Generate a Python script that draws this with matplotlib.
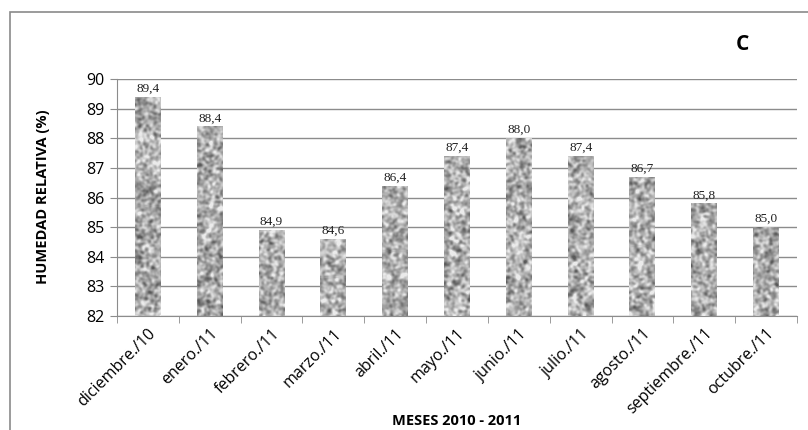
import numpy as np
import matplotlib
matplotlib.use("Agg")
import matplotlib.pyplot as plt
from matplotlib.patches import Rectangle

meses = ["diciembre./10", "enero./11", "febrero./11", "marzo./11", "abril./11",
         "mayo./11", "junio./11", "julio./11", "agosto./11", "septiembre./11",
         "octubre./11"]
humedad = [89.4, 88.4, 84.9, 84.6, 86.4, 87.4, 88.0, 87.4, 86.7, 85.8, 85.0]
yticks = [82, 83, 84, 85, 86, 87, 88, 89, 90]


def blur(a, sigma):
    r = int(3 * sigma)
    t = np.arange(-r, r + 1)
    k = np.exp(-t ** 2 / (2 * sigma ** 2))
    k /= k.sum()
    a = np.apply_along_axis(lambda v: np.convolve(v, k, mode="same"), 1, a)
    a = np.apply_along_axis(lambda v: np.convolve(v, k, mode="same"), 0, a)
    return a


def granite(h, w):
    # only a fill texture for the bars (granite-like Excel pattern)
    rng = np.random.default_rng(7)
    n = blur(rng.random((h + 12, w + 12)), 1.3)[6:-6, 6:-6]
    n = (n - n.mean()) / n.std()
    return np.clip(0.68 + 0.11 * n, 0.35, 0.92)


fig = plt.figure(figsize=(8.08, 4.30), dpi=100)
W, H = 808, 430
ax = fig.add_axes([117 / W, 1 - 316 / H, (797 - 117) / W, (316 - 79) / H])

x = np.arange(len(meses))
bars = ax.bar(x, humedad, width=0.42, color="#a8a8a8", edgecolor="none",
              zorder=2)

px_per_unit = 237 / 8.0
tex = granite(260, 26 * len(meses))
for i, b in enumerate(bars):
    x0 = b.get_x()
    rows = max(1, int(round((b.get_height() - 82) * px_per_unit)))
    piece = tex[:rows, i * 26:(i + 1) * 26]
    im = ax.imshow(piece, cmap="gray", vmin=0, vmax=1, aspect="auto",
                   extent=[x0, x0 + b.get_width(), 82, b.get_height()],
                   zorder=3, interpolation="nearest")
    im.set_clip_path(b)

for xi, v in zip(x, humedad):
    ax.text(xi, v + 0.07, f"{v:.1f}".replace(".", ","), ha="center",
            va="bottom", fontsize=9.5, family="Liberation Serif", color="#222222")

ax.set_xlim(-0.5, len(meses) - 0.5)
ax.set_ylim(82, 90)
ax.set_yticks(yticks)
ax.set_yticklabels([str(t) for t in yticks], fontsize=11.5, family="Open Sans")
ax.yaxis.grid(True, color="#8c8c8c", linewidth=1.0, zorder=0)
ax.set_axisbelow(True)

ax.set_xticks(x)
ax.set_xticklabels(meses, rotation=45, ha="right", rotation_mode="anchor",
                   fontsize=11.5, family="Open Sans")
ax.tick_params(axis="x", length=0, pad=7)
ax.set_xticks(np.arange(-0.5, len(meses), 1), minor=True)
ax.tick_params(axis="x", which="minor", length=5, color="#8c8c8c")
ax.tick_params(axis="y", length=5, color="#8c8c8c", pad=4)

for s in ["top", "right"]:
    ax.spines[s].set_visible(False)
for s in ["left", "bottom"]:
    ax.spines[s].set_color("#8c8c8c")

fig.text(43 / W, 1 - 197 / H, "HUMEDAD RELATIVA (%)", rotation=90,
         ha="center", va="center", fontsize=10.5, fontweight="bold",
         family="Open Sans")
fig.text(457 / W, 1 - 421 / H, "MESES 2010 - 2011", ha="center",
         va="center", fontsize=10.5, fontweight="bold", family="Open Sans")
fig.text(742 / W, 1 - 45 / H, "C", ha="center", va="center",
         fontsize=15, fontweight="bold", family="Open Sans")

fig.patches.append(Rectangle((10 / W, -0.05), 1.0, 1 - 12 / H + 0.05,
                             transform=fig.transFigure, fill=False,
                             edgecolor="#8a8a8a", linewidth=1.2))

fig.savefig("out.png", dpi=100)
